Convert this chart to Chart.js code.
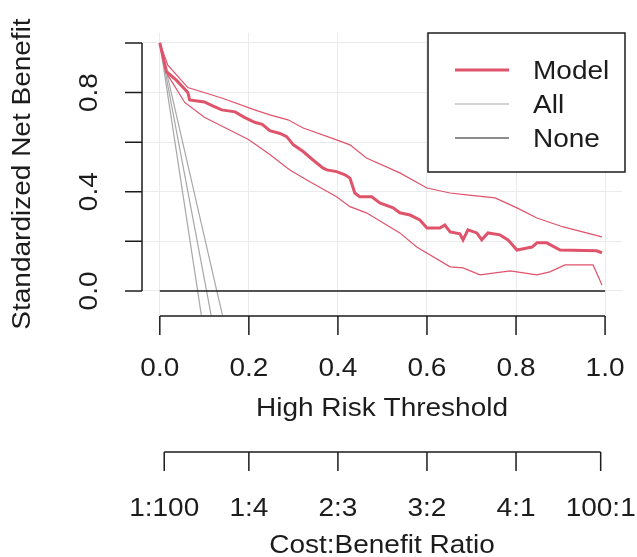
<!DOCTYPE html>
<html lang="en">
<head>
<meta charset="UTF-8">
<title>decision curve</title>
<script src="https://cdn.jsdelivr.net/npm/chart.js@4.4.0/dist/chart.umd.min.js"></script>
<style>
    body { margin: 0; padding: 0; background: #fff; }
    #chart { display: block; }
</style>
</head>
<body>
<canvas id="chart" width="637" height="557"></canvas>
<script>
// values (threshold -> standardized net benefit)
const modelX = [0, 0.015, 0.037, 0.063, 0.067, 0.10, 0.12, 0.139, 0.169, 0.19, 0.213, 0.23, 0.247, 0.27, 0.285, 0.30, 0.322, 0.344, 0.366, 0.375, 0.397, 0.416, 0.427, 0.438, 0.449, 0.476, 0.494, 0.524, 0.539, 0.562, 0.584, 0.60, 0.629, 0.64, 0.652, 0.674, 0.681, 0.692, 0.712, 0.723, 0.737, 0.764, 0.782, 0.802, 0.825, 0.836, 0.847, 0.869, 0.899, 0.981, 0.993];
const modelY = [1.0, 0.884, 0.85, 0.80, 0.77, 0.762, 0.745, 0.73, 0.722, 0.70, 0.68, 0.672, 0.646, 0.635, 0.622, 0.589, 0.562, 0.528, 0.496, 0.488, 0.481, 0.468, 0.455, 0.395, 0.38, 0.38, 0.355, 0.335, 0.315, 0.306, 0.286, 0.254, 0.254, 0.266, 0.238, 0.23, 0.206, 0.246, 0.234, 0.206, 0.234, 0.226, 0.206, 0.165, 0.173, 0.177, 0.194, 0.194, 0.165, 0.162, 0.154];

const upperX = [0, 0.018, 0.063, 0.139, 0.213, 0.247, 0.288, 0.322, 0.397, 0.427, 0.464, 0.539, 0.60, 0.652, 0.689, 0.753, 0.802, 0.847, 0.906, 0.993];
const upperY = [1.0, 0.91, 0.82, 0.778, 0.73, 0.71, 0.69, 0.657, 0.609, 0.589, 0.536, 0.476, 0.415, 0.395, 0.387, 0.375, 0.335, 0.294, 0.258, 0.218];

const lowerX = [0, 0.018, 0.056, 0.10, 0.15, 0.20, 0.247, 0.292, 0.337, 0.397, 0.427, 0.464, 0.539, 0.577, 0.652, 0.681, 0.719, 0.787, 0.847, 0.876, 0.91, 0.973, 0.993];
const lowerY = [1.0, 0.87, 0.76, 0.70, 0.655, 0.61, 0.55, 0.488, 0.44, 0.38, 0.34, 0.315, 0.234, 0.177, 0.097, 0.093, 0.065, 0.081, 0.065, 0.077, 0.105, 0.105, 0.024];

// treat-all curve and its bounds
const allX = [0, 0.105, 0.125];
const allY = [1.0, 0, -0.19];
const allLoX = [0, 0.085, 0.10];
const allLoY = [1.0, 0, -0.18];
const allHiX = [0, 0.128, 0.145];
const allHiY = [1.0, 0, -0.13];

const noneX = [0, 1];
const noneY = [0, 0];

const riskTicks = [0, 0.2, 0.4, 0.6, 0.8, 1.0];
const riskLabels = ['0.0', '0.2', '0.4', '0.6', '0.8', '1.0'];
const nbTicks = [0, 0.2, 0.4, 0.6, 0.8, 1.0];
const nbLabelAt = [0, 0.4, 0.8];
const nbLabels = ['0.0', '0.4', '0.8'];
const ratioTicks = [1 / 101, 0.2, 0.4, 0.6, 0.8, 100 / 101];
const ratioLabels = ['1:100', '1:4', '2:3', '3:2', '4:1', '100:1'];

const RED = '#DF536B';
const GREY = '#a8a8a8';
const INK = '#1c1c1c';
const FONT = '25px "Liberation Sans", Arial, sans-serif';

function pts(xs, ys) {
    return xs.map((x, i) => ({ x: x, y: ys[i] }));
}

function txt(ctx, s, x, y, rot, align) {
    ctx.save();
    ctx.translate(x, y);
    if (rot) ctx.rotate(-Math.PI / 2);
    ctx.scale(1.12, 1);
    ctx.textAlign = align || 'center';
    ctx.textBaseline = 'alphabetic';
    ctx.fillText(s, 0, 0);
    ctx.restore();
}

// R style axes + legend box
const rAxes = {
    id: 'rAxes',
    afterDraw(chart) {
        const ctx = chart.ctx;
        const xs = chart.scales.x;
        const ys = chart.scales.y;
        ctx.save();
        ctx.strokeStyle = INK;
        ctx.fillStyle = INK;
        ctx.lineWidth = 1.5;
        ctx.font = FONT;

        // y axis
        const yx = 142;
        ctx.beginPath();
        ctx.moveTo(yx, ys.getPixelForValue(0));
        ctx.lineTo(yx, ys.getPixelForValue(1));
        nbTicks.forEach(v => {
            const p = ys.getPixelForValue(v);
            ctx.moveTo(yx, p);
            ctx.lineTo(yx - 17, p);
        });
        ctx.stroke();
        nbLabelAt.forEach((v, i) => txt(ctx, nbLabels[i], 97, ys.getPixelForValue(v), true));
        txt(ctx, 'Standardized Net Benefit', 30, (chart.chartArea.top + chart.chartArea.bottom) / 2, true);

        // threshold axis
        const ax = 316;
        ctx.beginPath();
        ctx.moveTo(xs.getPixelForValue(0), ax);
        ctx.lineTo(xs.getPixelForValue(1), ax);
        riskTicks.forEach(v => {
            const p = xs.getPixelForValue(v);
            ctx.moveTo(p, ax);
            ctx.lineTo(p, ax + 19);
        });
        ctx.stroke();
        riskTicks.forEach((v, i) => txt(ctx, riskLabels[i], xs.getPixelForValue(v), 376));
        txt(ctx, 'High Risk Threshold', (chart.chartArea.left + chart.chartArea.right) / 2, 416);

        // cost:benefit axis
        const bx = 452;
        ctx.beginPath();
        ctx.moveTo(xs.getPixelForValue(ratioTicks[0]), bx);
        ctx.lineTo(xs.getPixelForValue(ratioTicks[ratioTicks.length - 1]), bx);
        ratioTicks.forEach(v => {
            const p = xs.getPixelForValue(v);
            ctx.moveTo(p, bx);
            ctx.lineTo(p, bx + 19);
        });
        ctx.stroke();
        ratioTicks.forEach((v, i) => txt(ctx, ratioLabels[i], xs.getPixelForValue(v), 516));
        txt(ctx, 'Cost:Benefit Ratio', (chart.chartArea.left + chart.chartArea.right) / 2, 553);

        // legend
        ctx.fillStyle = '#fff';
        ctx.fillRect(428, 33, 197, 139);
        ctx.strokeStyle = INK;
        ctx.lineWidth = 1.5;
        ctx.strokeRect(428, 33, 197, 139);
        const items = [['Model', RED, 3, 70], ['All', GREY, 1.2, 104], ['None', INK, 1.2, 138]];
        items.forEach(it => {
            ctx.strokeStyle = it[1];
            ctx.lineWidth = it[2];
            ctx.beginPath();
            ctx.moveTo(455, it[3]);
            ctx.lineTo(509, it[3]);
            ctx.stroke();
            ctx.fillStyle = INK;
            txt(ctx, it[0], 533, it[3] + 9, false, 'left');
        });
        ctx.restore();
    }
};

const line = (data, color, width) => ({
    data: data,
    borderColor: color,
    borderWidth: width,
    pointRadius: 0,
    tension: 0,
    fill: false
});

new Chart(document.getElementById('chart').getContext('2d'), {
    type: 'line',
    data: {
        datasets: [
            line(pts(modelX, modelY), RED, 3),
            line(pts(upperX, upperY), RED, 1.2),
            line(pts(lowerX, lowerY), RED, 1.2),
            line(pts(noneX, noneY), INK, 1.5),
            line(pts(allX, allY), GREY, 1.2),
            line(pts(allLoX, allLoY), GREY, 1.2),
            line(pts(allHiX, allHiY), GREY, 1.2)
        ]
    },
    options: {
        responsive: false,
        animation: false,
        layout: { padding: { left: 142, right: 15, top: 33, bottom: 242 } },
        plugins: { legend: { display: false }, tooltip: { enabled: false } },
        scales: {
            x: {
                type: 'linear', min: -0.04, max: 1.038,
                afterBuildTicks: s => { s.ticks = riskTicks.map(v => ({ value: v })); },
                ticks: { display: false },
                grid: { color: '#ebebeb', lineWidth: 1, drawTicks: false },
                border: { display: false }
            },
            y: {
                type: 'linear', min: -0.097, max: 1.040,
                afterBuildTicks: s => { s.ticks = nbTicks.map(v => ({ value: v })); },
                ticks: { display: false },
                grid: { color: '#ebebeb', lineWidth: 1, drawTicks: false },
                border: { display: false }
            }
        }
    },
    plugins: [rAxes]
});
</script>
</body>
</html>
